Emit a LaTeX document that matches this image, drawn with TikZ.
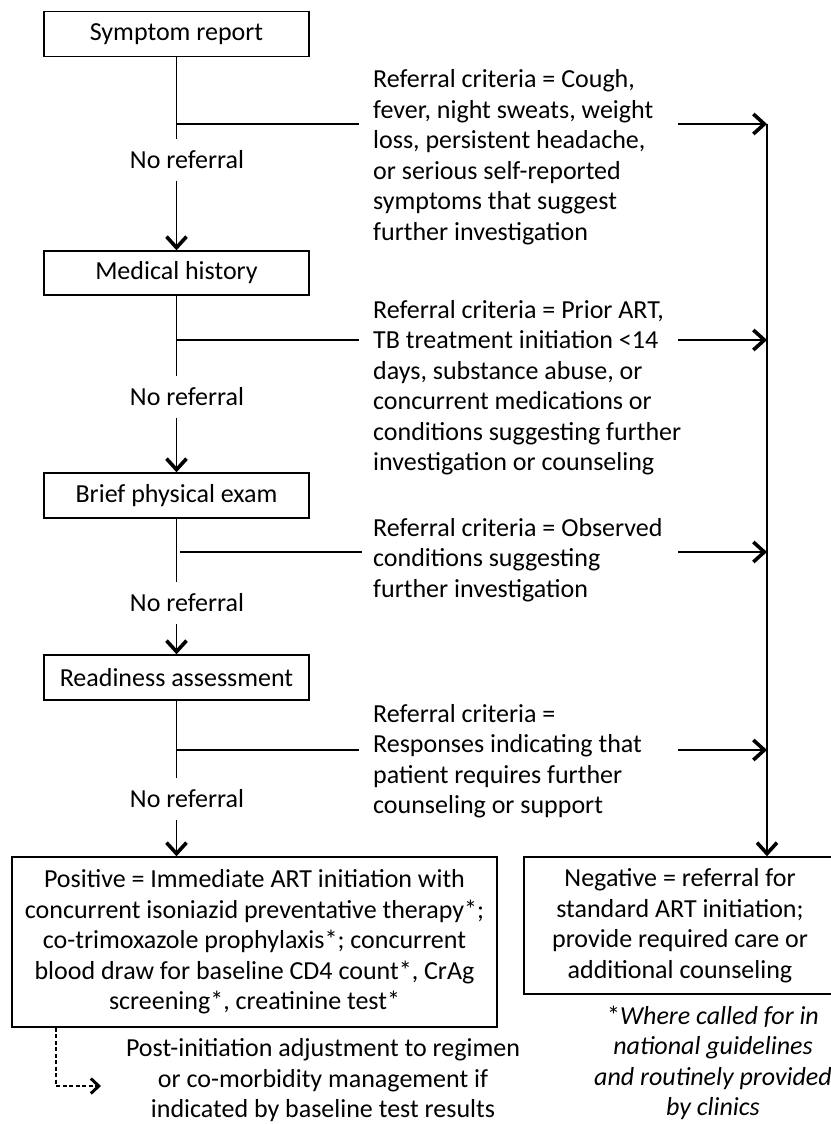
\documentclass[tikz,border=0pt]{standalone}
\usepackage{fontspec}
\setmainfont{Carlito}
\usetikzlibrary{arrows.meta,calc}

\tikzset{
  base/.style={font=\fontsize{26}{30.5}\selectfont},
  stepbox/.style={base, draw, line width=1.4pt, minimum width=265pt, minimum height=45pt, inner sep=0pt},
  bigbox/.style={base, draw, line width=1.4pt, inner sep=0pt, align=center},
  txt/.style={base, inner sep=0pt, align=left},
  ctxt/.style={base, inner sep=0pt, align=center},
  noref/.style={base, inner sep=0pt, minimum height=41pt},
  flow/.style={line width=1.4pt},
  tipv/.tip={Straight Barb[length=11pt,width=20pt,line width=3.6pt]},
  tipd/.tip={Straight Barb[length=8pt,width=15pt,line width=3pt]},
  arr/.style={line width=1.4pt, -tipv},
  darr/.style={line width=1.1pt, dash pattern=on 4pt off 2.5pt, -tipd}
}

\begin{document}
\begin{tikzpicture}[x=1pt,y=-1pt]
\useasboundingbox (0,0) rectangle (830,1124);

% main column of steps
\node[stepbox] (s1) at (176.5,34) {Symptom report};
\node[stepbox, minimum height=44pt] (s2) at (176.5,273) {Medical history};
\node[stepbox] (s3) at (176.5,495.5) {Brief physical exam};
\node[stepbox] (s4) at (176.5,677.5) {Readiness assessment};

\node[noref] (n1) at (187,160) {No referral};
\node[noref] (n2) at (187,397) {No referral};
\node[noref] (n3) at (187,603) {No referral};
\node[noref] (n4) at (187,799) {No referral};

% outcome boxes
\node[bigbox, minimum width=485pt, minimum height=170pt] (pos) at (254.5,942)
  {Positive = Immediate ART initiation with\\
   concurrent isoniazid preventative therapy*;\\
   co-trimoxazole prophylaxis*; concurrent\\
   blood draw for baseline CD4 count*, CrAg\\
   screening*, creatinine test*};
\node[bigbox, minimum width=312pt, minimum height=137pt] (neg) at (680,925.5)
  {Negative = referral for\\
   standard ART initiation;\\
   provide required care or\\
   additional counseling};

% referral criteria
\node[txt, anchor=west] (c1) at (373,157)
  {Referral criteria = Cough,\\
   fever, night sweats, weight\\
   loss, persistent headache,\\
   or serious self-reported\\
   symptoms that suggest\\
   further investigation};
\node[txt, anchor=west] (c2) at (373,387.5)
  {Referral criteria = Prior ART,\\
   TB treatment initiation <14\\
   days, substance abuse, or\\
   concurrent medications or\\
   conditions suggesting further\\
   investigation or counseling};
\node[txt, anchor=west] (c3) at (373,560)
  {Referral criteria = Observed\\
   conditions suggesting\\
   further investigation};
\node[txt, anchor=west] (c4) at (373,761)
  {Referral criteria =\\
   Responses indicating that\\
   patient requires further\\
   counseling or support};

% notes below the outcomes
\node[ctxt] (post) at (323,1080.5)
  {Post-initiation adjustment to regimen\\
   or co-morbidity management if\\
   indicated by baseline test results};
\node[ctxt] (fn) at (713,1063)
  {*\textit{Where called for in}\\
   \textit{national guidelines}\\
   \textit{and routinely provided}\\
   \textit{by clinics}};

% junctions and arrow ends
\coordinate (j1) at (177,124);   \coordinate (e1) at (359,124);
\coordinate (j2) at (177,340);   \coordinate (e2) at (359,340);
\coordinate (j3) at (180,552);   \coordinate (e3) at (362,552);
\coordinate (j4) at (177,750);   \coordinate (e4) at (359,750);
\coordinate (a1) at (678,124);   \coordinate (v1) at (767,124);
\coordinate (a2) at (678,340);   \coordinate (v2) at (767,340);
\coordinate (a3) at (678,552);   \coordinate (v3) at (767,552);
\coordinate (a4) at (678,750);   \coordinate (v4) at (767,750);
\coordinate (d1) at (56,1086);   \coordinate (d2) at (101,1086);

% flow down the column
\draw[flow] (s1.south) -- (s1.south |- n1.north);
\draw[arr]  (s1.south |- n1.south) -- (s2.north);
\draw[flow] (s2.south) -- (s2.south |- n2.north);
\draw[arr]  (s2.south |- n2.south) -- (s3.north);
\draw[flow] (s3.south) -- (s3.south |- n3.north);
\draw[arr]  (s3.south |- n3.south) -- (s4.north);
\draw[flow] (s4.south) -- (s4.south |- n4.north);
\draw[arr]  (s4.south |- n4.south) -- (s4.south |- pos.north);

% branches toward the criteria
\draw[flow] (j1) -- (e1);
\draw[flow] (j2) -- (e2);
\draw[flow] (j3) -- (e3);
\draw[flow] (j4) -- (e4);

% referral arrows and collector line
\draw[arr] (a1) -- (v1);
\draw[arr] (a2) -- (v2);
\draw[arr] (a3) -- (v3);
\draw[arr] (a4) -- (v4);
\draw[arr] (v1) -- (v1 |- neg.north);

% follow-up after initiation
\draw[darr] (d1 |- pos.south) -- (d1) -- (d2);
\end{tikzpicture}
\end{document}
